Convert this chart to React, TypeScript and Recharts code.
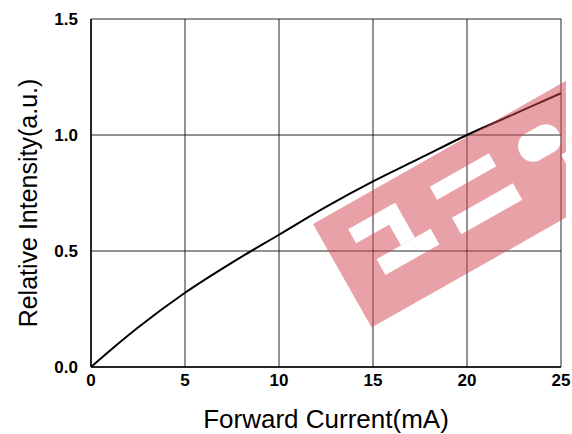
import React from "react";
import { LineChart, Line, XAxis, YAxis, CartesianGrid } from "recharts";

// Forward current (mA) vs relative intensity (a.u.)
const current = [0, 1, 2.5, 5, 7.5, 10, 12.5, 15, 17.5, 20, 22.5, 25];
const intensity = [0, 0.07, 0.17, 0.32, 0.45, 0.57, 0.69, 0.8, 0.9, 1.0, 1.09, 1.18];
const xTicks = [0, 5, 10, 15, 20, 25];
const yTicks = [0, 0.5, 1.0, 1.5];

const data = current.map((c, i) => ({ current: c, intensity: intensity[i] }));

const FONT = "'Liberation Sans', Arial, sans-serif";

// semi transparent stamp that sits over the plot
const Watermark = () => (
  <svg
    width={572}
    height={434}
    style={{ position: "absolute", left: 0, top: 0, pointerEvents: "none" }}
  >
    <defs>
      <clipPath id="wmClip">
        <rect x={0} y={0} width={566} height={434} />
      </clipPath>
      <mask id="wmMask">
        <g transform="translate(313,224) rotate(-29.5)">
          <rect x={0} y={0} width={320} height={119} fill="white" />
          {/* letter shapes knocked out */}
          <rect x={28} y={22} width={50} height={16} fill="black" />
          <rect x={66} y={22} width={16} height={40} fill="black" />
          <rect x={38} y={62} width={62} height={18} fill="black" />
          <rect x={120} y={25} width={68} height={15} fill="black" />
          <rect x={124} y={63} width={70} height={19} fill="black" />
          <rect x={215} y={26} width={44} height={30} rx={14} fill="black" />
          <rect x={250} y={62} width={40} height={40} fill="black" />
        </g>
      </mask>
    </defs>
    <g clipPath="url(#wmClip)">
      <rect
        x={0}
        y={0}
        width={572}
        height={434}
        fill="#d24550"
        opacity={0.5}
        mask="url(#wmMask)"
      />
    </g>
  </svg>
);

const XTitle = (props: any) => {
  const vb = props.viewBox;
  return (
    <text
      x={vb.x + vb.width / 2}
      y={vb.y + 61}
      textAnchor="middle"
      fill="#000"
      fontFamily={FONT}
      fontSize={26}
    >
      Forward Current(mA)
    </text>
  );
};

const YTitle = (props: any) => {
  const vb = props.viewBox;
  const x = vb.x + 6;
  const y = vb.y + vb.height / 2 + 10;
  return (
    <text
      x={x}
      y={y}
      transform={`rotate(-90 ${x} ${y})`}
      textAnchor="middle"
      fill="#000"
      fontFamily={FONT}
      fontSize={25}
    >
      Relative Intensity(a.u.)
    </text>
  );
};

export default function App() {
  return (
    <div style={{ position: "relative", width: 572, height: 434, background: "#fff" }}>
      <style>{`body{margin:0}`}</style>
      <LineChart
        width={572}
        height={434}
        data={data}
        margin={{ top: 19, right: 11, left: 31, bottom: 0 }}
      >
        <CartesianGrid stroke="#000" strokeWidth={1} strokeOpacity={0.85} />
        <XAxis
          dataKey="current"
          type="number"
          domain={[0, 25]}
          ticks={xTicks}
          height={67}
          tickLine={false}
          axisLine={{ stroke: "#000", strokeWidth: 1.5 }}
          tick={{ fill: "#000", fontFamily: FONT, fontSize: 17, fontWeight: "bold" }}
          tickMargin={1}
          label={<XTitle />}
        />
        <YAxis
          type="number"
          domain={[0, 1.5]}
          ticks={yTicks}
          width={60}
          tickLine={false}
          axisLine={{ stroke: "#000", strokeWidth: 1.5 }}
          tickFormatter={(v: number) => v.toFixed(1)}
          tick={{ fill: "#000", fontFamily: FONT, fontSize: 17, fontWeight: "bold" }}
          tickMargin={7}
          label={<YTitle />}
        />
        <Line
          type="monotone"
          dataKey="intensity"
          stroke="#000"
          strokeWidth={2}
          dot={false}
          isAnimationActive={false}
        />
      </LineChart>
      <Watermark />
    </div>
  );
}
